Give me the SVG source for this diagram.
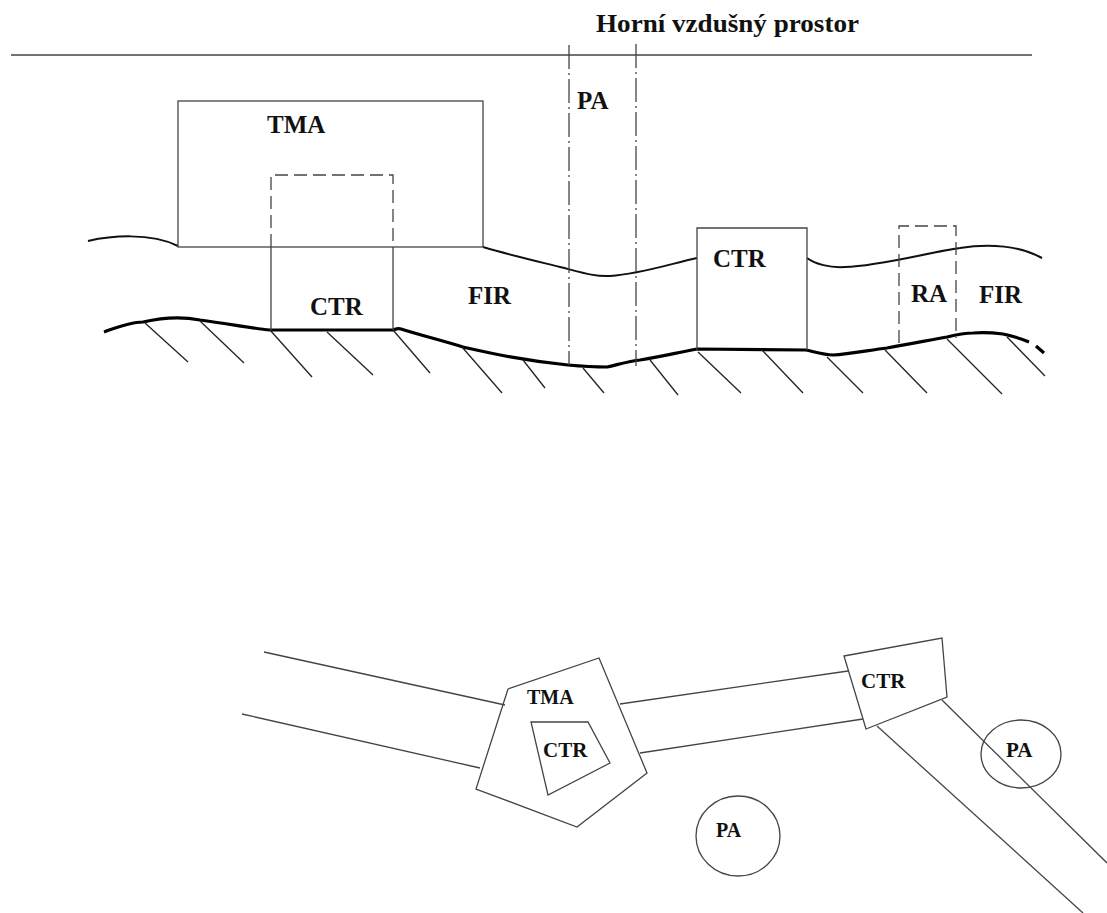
<svg xmlns="http://www.w3.org/2000/svg" width="1107" height="913" viewBox="0 0 1107 913">
<style>
.thin{stroke:#444;stroke-width:1.3;fill:none}
.wave{stroke:#111;stroke-width:2;fill:none}
.ground{stroke:#000;stroke-width:3.2;fill:none;stroke-linejoin:round}
.hatch{stroke:#222;stroke-width:1.3}
.dash{stroke-dasharray:13 6}
.dashdot{stroke-dasharray:24 4 2 4}
.lbl{font-family:"Liberation Serif","Times New Roman",serif;font-weight:bold;fill:#111}
.big{font-size:25px}
.small{font-size:21px}
</style>
<rect width="1107" height="913" fill="#fff"/>

<!-- upper section -->
<g id="upper-limit">
<line class="thin" x1="11" y1="55" x2="1032" y2="55" style="stroke-width:1.6"/>
<text class="lbl" x="596" y="32" font-size="26" textLength="263" lengthAdjust="spacingAndGlyphs">Horní vzdušný prostor</text>
</g>

<g id="fir-upper-boundary">
<path class="wave" d="M88,241 C110,236 150,232 178,246"/>
<path class="wave" d="M483,247 C510,255 540,262 560,267 C580,272 595,277 610,276 C640,274 670,264 697,258"/>
<path class="wave" d="M807,258 C815,264 830,268 845,267 C880,266 930,252 960,248 C990,243 1020,246 1042,258"/>
</g>

<g id="ground">
<path class="ground" d="M104,332 C115,328 130,322 143,322 C160,318 180,316 200,320 C230,324 250,328 270,330 L393,330 C396,329 398,328 401,329 C420,335 440,340 463,347 C490,353 520,360 568,365 C590,367 600,367 607,367 C620,364 630,361 640,360 C660,357 680,352 697,349 L806,350 C815,352 825,355 833,355 C850,354 870,350 887,348 C910,344 930,340 947,337 C955,335 965,333 973,333 C985,332 995,333 1003,334 C1012,336 1020,338 1029,342"/>
<line class="ground" x1="1036" y1="346" x2="1044" y2="353"/>
<g id="hatching">
<line class="hatch" x1="145" y1="323" x2="188" y2="362"/>
<line class="hatch" x1="200" y1="321" x2="244" y2="363"/>
<line class="hatch" x1="270" y1="330" x2="312" y2="377"/>
<line class="hatch" x1="327" y1="332" x2="373" y2="375"/>
<line class="hatch" x1="393" y1="330" x2="430" y2="373"/>
<line class="hatch" x1="462" y1="347" x2="502" y2="393"/>
<line class="hatch" x1="523" y1="360" x2="545" y2="388"/>
<line class="hatch" x1="583" y1="368" x2="604" y2="393"/>
<line class="hatch" x1="650" y1="360" x2="678" y2="395"/>
<line class="hatch" x1="698" y1="352" x2="741" y2="393"/>
<line class="hatch" x1="762" y1="350" x2="803" y2="393"/>
<line class="hatch" x1="827" y1="357" x2="863" y2="393"/>
<line class="hatch" x1="885" y1="350" x2="927" y2="393"/>
<line class="hatch" x1="947" y1="339" x2="1002" y2="394"/>
<line class="hatch" x1="1007" y1="337" x2="1045" y2="376"/>
</g>
</g>

<g id="tma-side">
<rect class="thin" x="178" y="101" width="305" height="146"/>
<text class="lbl big" x="267" y="133">TMA</text>
</g>

<g id="ctr-side-left">
<path class="thin dash" d="M271,247 V175 H393 V247"/>
<path class="thin" d="M271,247 V330 M393,247 V330"/>
<text class="lbl big" x="310" y="315">CTR</text>
</g>

<g id="fir-label-left">
<text class="lbl big" x="468" y="304">FIR</text>
</g>

<g id="pa-side">
<line class="thin dashdot" x1="569" y1="45" x2="569" y2="365"/>
<line class="thin dashdot" x1="636" y1="44" x2="636" y2="366"/>
<text class="lbl big" x="577" y="109">PA</text>
</g>

<g id="ctr-side-right">
<path class="thin" d="M697,350 V228 H807 V350"/>
<text class="lbl big" x="713" y="267">CTR</text>
</g>

<g id="ra-side">
<path class="thin dash" d="M899,343 V226 H956 V338"/>
<text class="lbl big" x="911" y="302">RA</text>
</g>

<g id="fir-label-right">
<text class="lbl big" x="979" y="303">FIR</text>
</g>

<!-- plan view -->
<g id="connectors">
<line class="thin" x1="264" y1="652" x2="505" y2="705"/>
<line class="thin" x1="242" y1="714" x2="480" y2="768"/>
<line class="thin" x1="620" y1="704" x2="848" y2="671"/>
<line class="thin" x1="640" y1="753" x2="863" y2="719"/>
<line class="thin" x1="942" y1="700" x2="1107" y2="863"/>
<line class="thin" x1="877" y1="726" x2="1083" y2="913"/>
</g>

<g id="tma-plan">
<polygon class="thin" points="508,689 599,658 647,773 577,827 476,789"/>
<text class="lbl small" x="527" y="704" style="font-size:20px">TMA</text>
</g>

<g id="ctr-plan-inner">
<polygon class="thin" points="531,722 588,722 610,763 548,795"/>
<text class="lbl small" x="543" y="757">CTR</text>
</g>

<g id="ctr-plan-right">
<polygon class="thin" points="844,656 942,638 947,697 866,729"/>
<text class="lbl small" x="861" y="688">CTR</text>
</g>

<g id="pa-plan-right">
<ellipse class="thin" cx="1021" cy="754" rx="40" ry="34"/>
<text class="lbl small" x="1006" y="757">PA</text>
</g>

<g id="pa-plan-lower">
<ellipse class="thin" cx="738" cy="836" rx="42" ry="40"/>
<text class="lbl small" x="716" y="837" style="font-size:20px">PA</text>
</g>
</svg>
